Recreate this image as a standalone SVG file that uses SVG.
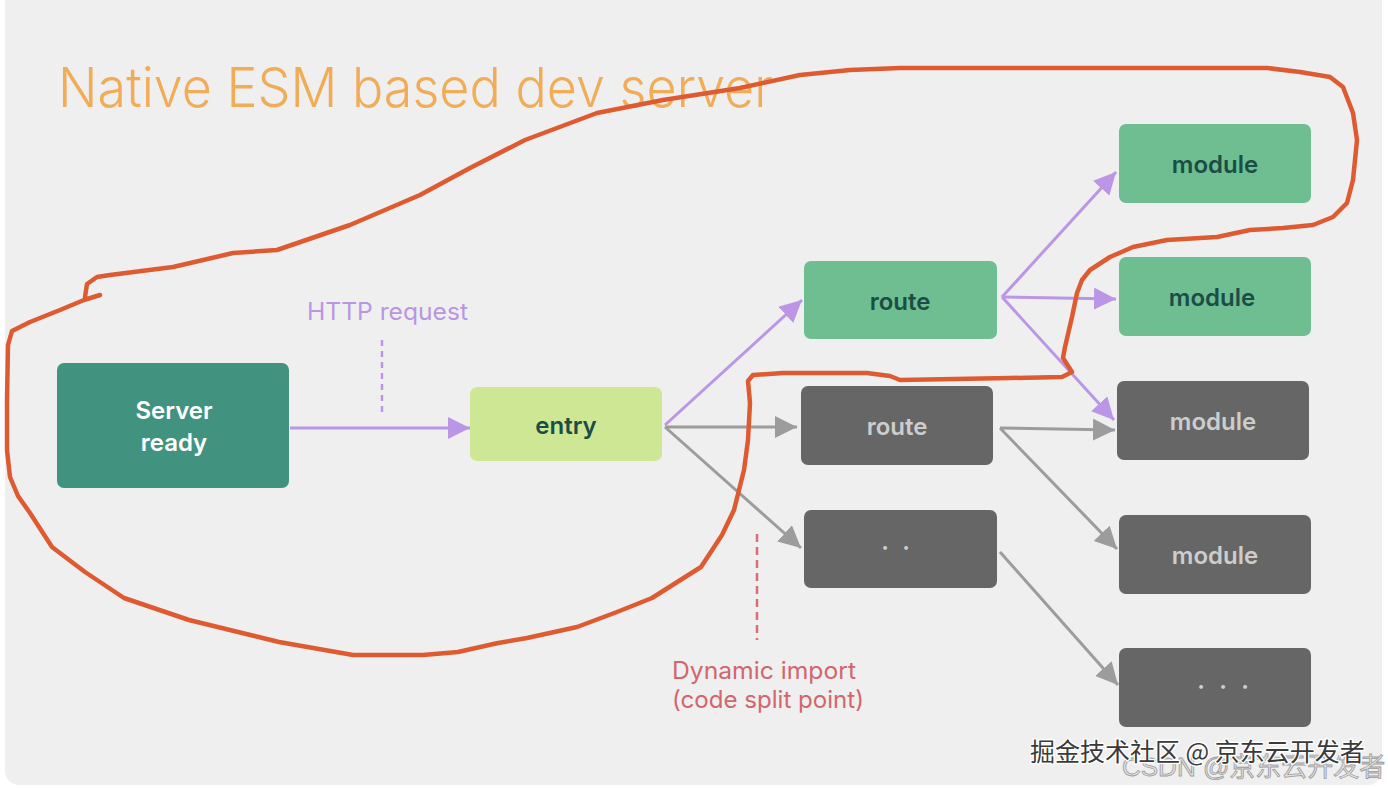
<svg xmlns="http://www.w3.org/2000/svg" width="1388" height="788" viewBox="0 0 1388 788">
<defs>
<style>
.lbl{font-family:Inter,"Liberation Sans",sans-serif;font-weight:600;font-size:24px;text-anchor:middle}
.dk{fill:#1b4d47}
.lt{fill:#cdcdcd}
.wh{fill:#ffffff}
.gn{fill:#6ebe91}
.gy{fill:#666666}
.pl{stroke:#bb96e6;stroke-width:3;fill:none}
.gl{stroke:#9c9c9c;stroke-width:3;fill:none}
.ann{font-family:Inter,"Liberation Sans",sans-serif;font-size:24px}
</style>
<marker id="ap" markerUnits="userSpaceOnUse" markerWidth="24" markerHeight="22" refX="22" refY="11" orient="auto"><path d="M0,0 L22,11 L0,22 z" fill="#bb96e6"/></marker>
<marker id="ag" markerUnits="userSpaceOnUse" markerWidth="24" markerHeight="22" refX="22" refY="11" orient="auto"><path d="M0,0 L22,11 L0,22 z" fill="#9c9c9c"/></marker>
</defs>
<rect x="0" y="0" width="1388" height="788" fill="#ffffff"/>
<rect x="5" y="-14" width="1377" height="799" rx="14" fill="#efefef"/>
<text x="58" y="107" font-family="Inter,'Liberation Sans',sans-serif" font-weight="300" font-size="55" fill="#f1ac57" textLength="715" lengthAdjust="spacingAndGlyphs">Native ESM based dev server</text>
<g id="connectors">
<line class="pl" x1="290" y1="428" x2="470" y2="428" marker-end="url(#ap)"/>
<line class="pl" x1="665" y1="425" x2="802" y2="300" marker-end="url(#ap)"/>
<line class="pl" x1="1002" y1="297" x2="1116" y2="172" marker-end="url(#ap)"/>
<line class="pl" x1="1002" y1="297" x2="1116" y2="299" marker-end="url(#ap)"/>
<line class="pl" x1="1002" y1="297" x2="1114" y2="420" marker-end="url(#ap)"/>
<line class="gl" x1="665" y1="427" x2="797" y2="427" marker-end="url(#ag)"/>
<line class="gl" x1="665" y1="427" x2="801" y2="548" marker-end="url(#ag)"/>
<line class="gl" x1="1000" y1="428" x2="1115" y2="430" marker-end="url(#ag)"/>
<line class="gl" x1="1000" y1="428" x2="1117" y2="549" marker-end="url(#ag)"/>
<line class="gl" x1="1000" y1="552" x2="1118" y2="685" marker-end="url(#ag)"/>
<line x1="382" y1="340" x2="382" y2="413" stroke="#bb96e6" stroke-width="2.5" stroke-dasharray="6 5"/>
<line x1="757" y1="534" x2="757" y2="640" stroke="#d5707a" stroke-width="2.5" stroke-dasharray="8 5"/>
</g>
<g id="server-ready">
<rect x="57" y="363" width="232" height="125" rx="7" fill="#41937f"/>
<text class="lbl wh" x="174" y="419">Server</text>
<text class="lbl wh" x="174" y="451">ready</text>
</g>
<g id="entry">
<rect x="470" y="387" width="192" height="74" rx="7" fill="#cee795"/>
<text class="lbl dk" x="566" y="434">entry</text>
</g>
<g id="route-1">
<rect class="gn" x="804" y="261" width="193" height="78" rx="7"/>
<text class="lbl dk" x="900" y="310">route</text>
</g>
<g id="route-2">
<rect class="gy" x="801" y="386" width="192" height="79" rx="7"/>
<text class="lbl lt" x="897" y="435">route</text>
</g>
<g id="dots-2">
<rect class="gy" x="804" y="510" width="193" height="78" rx="7"/>
<text class="lbl lt" x="885 906" y="556">··</text>
</g>
<g id="module-1">
<rect class="gn" x="1119" y="124" width="192" height="79" rx="7"/>
<text class="lbl dk" x="1215" y="173">module</text>
</g>
<g id="module-2">
<rect class="gn" x="1119" y="257" width="192" height="79" rx="7"/>
<text class="lbl dk" x="1212" y="306">module</text>
</g>
<g id="module-3">
<rect class="gy" x="1117" y="381" width="192" height="79" rx="7"/>
<text class="lbl lt" x="1213" y="430">module</text>
</g>
<g id="module-4">
<rect class="gy" x="1119" y="515" width="192" height="79" rx="7"/>
<text class="lbl lt" x="1215" y="564">module</text>
</g>
<g id="dots-3">
<rect class="gy" x="1119" y="648" width="192" height="79" rx="7"/>
<text class="lbl lt" x="1201 1223 1245" y="695">···</text>
</g>
<g id="labels">
<text class="ann" x="307" y="320" fill="#b996e2" textLength="161" lengthAdjust="spacingAndGlyphs">HTTP request</text>
<text class="ann" x="672" y="679" fill="#d1666c" textLength="184" lengthAdjust="spacingAndGlyphs">Dynamic import</text>
<text class="ann" x="672" y="708" fill="#d1666c" textLength="192" lengthAdjust="spacingAndGlyphs">(code split point)</text>
</g>
<path d="M100,295 L84,300 L60,310 L30,322 L12,331 L8,345 L7,400 L7,450 L10,477 L18,496 L30,513 L52,547 L85,572 L124,598 L189,620 L279,642 L353,655 L423,655 L458,652 L498,643 L527,638 L577,627 L617,612 L652,598 L701,567 L722,535 L734,510 L744,470 L748,440 L750,403 L748,381 L753,375 L783,373 L867,373 L890,376 L900,380 L1010,378 L1062,377 L1072,372 L1063,358 L1065,347 L1072,317 L1077,293 L1082,280 L1090,270 L1110,257 L1133,247 L1167,240 L1217,237 L1250,230 L1283,228 L1313,225 L1333,217 L1347,203 L1353,180 L1357,140 L1353,113 L1343,87 L1330,77 L1300,72 L1267,68 L1000,68 L900,68 L850,70 L800,75 L740,88 L663,100 L597,113 L525,140 L470,168 L420,195 L350,225 L277,250 L233,253 L173,267 L110,275 L97,277 L87,284 L85,297" fill="none" stroke="#de5b31" stroke-width="4.5" stroke-linejoin="round" stroke-linecap="round"/>
<g id="watermark">
<text x="1122" y="776" font-family="'Liberation Sans','Noto Sans CJK SC',sans-serif" font-size="26" fill="#e2e2e2" stroke="#9a9a9a" stroke-width="0.8">CSDN @京东云开发者</text>
<text x="1030" y="761" font-family="'Noto Sans CJK SC',sans-serif" font-size="25" fill="#3a3a3a" stroke="#ffffff" stroke-width="2.5" paint-order="stroke">掘金技术社区 @ 京东云开发者</text>
</g>
</svg>
